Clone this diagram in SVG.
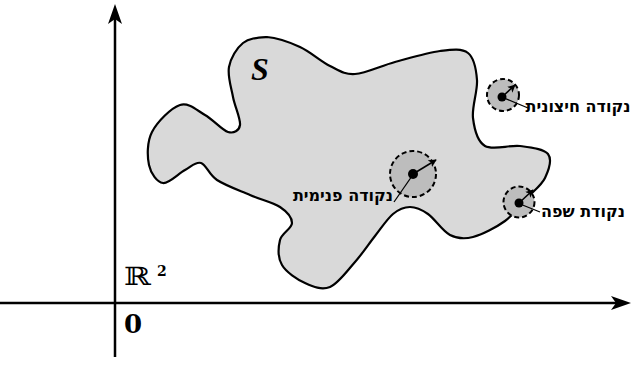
<svg xmlns="http://www.w3.org/2000/svg" width="632" height="365" viewBox="0 0 632 365">
<style>
.axis{stroke:#000;stroke-width:2.5;fill:none}
.blob{fill:#d9d9d9;stroke:#000;stroke-width:2.2}
.nbhd{fill:#bdbdbd;stroke:#000;stroke-width:2;stroke-dasharray:5 3}
.dot{fill:#000}
.rad{stroke:#000;stroke-width:1.6;fill:none;marker-end:url(#ah)}
.lead{stroke:#000;stroke-width:1.3;fill:none}
.lbl{font-family:"DejaVu Sans","Liberation Sans",sans-serif;font-weight:bold;font-size:16px;fill:#000;text-anchor:middle}
</style>
<defs>
<marker id="ah" viewBox="0 0 10 10" refX="9" refY="5" markerWidth="8" markerHeight="8" markerUnits="userSpaceOnUse" orient="auto">
<path d="M0,0 L10,5 L0,10 L2.5,5 Z" fill="#000"/>
</marker>
</defs>
<g id="connectors">
<line class="axis" x1="115" y1="357" x2="115" y2="18"/>
<polygon points="115,4 108,24 115,19 122,24" fill="#000"/>
<line class="axis" x1="0" y1="303" x2="617" y2="303"/>
<polygon points="631,303 611,296 616,303 611,310" fill="#000"/>
</g>
<g id="set-S">
<path class="blob" d="M267,37 C276.5,37.67 289.5,42.17 300,47 C310.5,51.83 320.83,61.5 330,66 C339.17,70.5 344.17,74.67 355,74 C365.83,73.33 380.83,65.83 395,62 C409.17,58.17 427.83,52.5 440,51 C452.17,49.5 461.83,48.17 468,53 C474.17,57.83 476.17,69.17 477,80 C477.83,90.83 471.67,107 473,118 C474.33,129 477.17,141.33 485,146 C492.83,150.67 509.5,144.67 520,146 C530.5,147.33 543.83,148.67 548,154 C552.17,159.33 548.5,170.67 545,178 C541.5,185.33 533.67,190.83 527,198 C520.33,205.17 514,214.5 505,221 C496,227.5 482.17,234.67 473,237 C463.83,239.33 457.5,238.83 450,235 C442.5,231.17 434.67,218.67 428,214 C421.33,209.33 415.83,207 410,207 C404.17,207 398.83,209.17 393,214 C387.17,218.83 381.33,228 375,236 C368.67,244 362.5,253.5 355,262 C347.5,270.5 338.33,283.5 330,287 C321.67,290.5 313,286.67 305,283 C297,279.33 286.17,272.17 282,265 C277.83,257.83 278.33,247 280,240 C281.67,233 292,228.5 292,223 C292,217.5 287,211.67 280,207 C273,202.33 260.5,199.5 250,195 C239.5,190.5 225.17,185.33 217,180 C208.83,174.67 206.33,164.67 201,163 C195.67,161.33 191.33,166.67 185,170 C178.67,173.33 169,183.83 163,183 C157,182.17 150.83,173.5 149,165 C147.17,156.5 146.83,142 152,132 C157.17,122 171.17,107.83 180,105 C188.83,102.17 197,110.5 205,115 C213,119.5 222.17,130.33 228,132 C233.83,133.67 239.17,130.83 240,125 C240.83,119.17 234.830,106.67 233,97 C231.17,87.33 227.33,76 229,67 C230.67,58 236.67,48 243,43 C249.33,38 257.5,37.67 267,37 Z"/>
<text x="251" y="80" font-family="'Liberation Serif','DejaVu Serif',serif" font-style="italic" font-weight="bold" font-size="32">S</text>
</g>
<g id="interior-point">
<circle class="nbhd" cx="413" cy="174" r="23"/>
<line class="lead" x1="412" y1="176" x2="394" y2="202"/>
<line class="rad" x1="413" y1="174" x2="436" y2="160"/>
<circle class="dot" cx="413" cy="174" r="5"/>
<text class="lbl" x="343" y="201">נקודה פנימית</text>
</g>
<g id="exterior-point">
<circle class="nbhd" cx="503" cy="95" r="16"/>
<line class="lead" x1="504" y1="98" x2="528" y2="108"/>
<line class="rad" x1="502" y1="97" x2="515" y2="85"/>
<circle class="dot" cx="502" cy="97" r="4.5"/>
<text class="lbl" x="578" y="112">נקודה חיצונית</text>
</g>
<g id="boundary-point">
<circle class="nbhd" cx="519" cy="202" r="15.5"/>
<line class="lead" x1="520" y1="204" x2="540" y2="212"/>
<line class="rad" x1="519" y1="203" x2="533" y2="190"/>
<circle class="dot" cx="519" cy="203" r="4.5"/>
<text class="lbl" x="583" y="217">נקודת שפה</text>
</g>
<g id="labels">
<text transform="translate(124,285) scale(1.3,1)" font-family="'DejaVu Serif',serif" font-size="25">ℝ</text>
<text x="157" y="276" font-family="'DejaVu Serif',serif" font-weight="bold" font-size="14">2</text>
<text x="124" y="333" font-family="'DejaVu Serif',serif" font-weight="bold" font-size="26">0</text>
</g>
</svg>
